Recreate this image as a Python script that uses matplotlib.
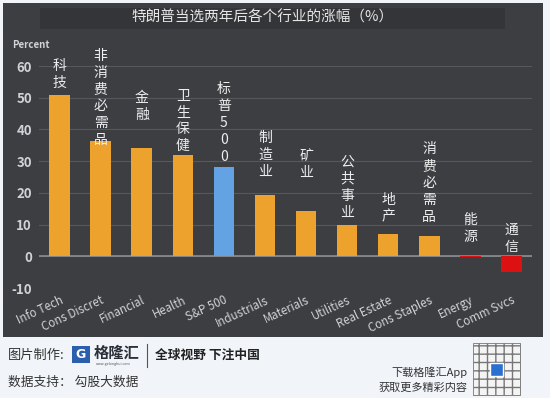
"""Sector gains two years after the Trump election, dark panel bar chart."""

import matplotlib

matplotlib.use("Agg")

import matplotlib.pyplot as plt
from matplotlib.patches import Rectangle

plt.rcParams["font.family"] = ["Noto Sans CJK SC", "DejaVu Sans"]

W, H = 550, 398

sectors_en = ["Info Tech", "Cons Discret", "Financial", "Health", "S&P 500", "Industrials",
              "Materials", "Utilities", "Real Estate", "Cons Staples", "Energy", "Comm Svcs"]
sectors_cn = ["科技", "非消费必需品", "金融", "卫生保健", "标普500", "制造业",
              "矿业", "公共事业", "地产", "消费必需品", "能源", "通信"]
gains = [50.8, 36.3, 34.0, 31.9, 28.0, 19.2, 14.3, 9.8, 6.9, 6.4, -0.3, -4.8]
y_ticks = [-10, 0, 10, 20, 30, 40, 50, 60]

# gap (points) between the bar top and its vertical chinese label
label_gap = [3.5, -4.5, 19, 1.2, 2.7, 12, 22, 4, 7.7, 8.4, 9, 2]

ORANGE = "#eda22e"
BLUE = "#63a3e3"
RED = "#dd1111"
PANEL = "#3c3e42"
TICK = "#cfd2d6"


def fx(px):
    return px / W


def fy(py):
    return 1 - py / H


def bar_colour(name, value):
    if name == "S&P 500":
        return BLUE
    return RED if value < 0 else ORANGE


fig = plt.figure(figsize=(W / 100, H / 100), dpi=100, facecolor="#f1f5f9")

# dark panel and title band
fig.patches.append(Rectangle((fx(3), fy(337)), fx(540), 334 / H, transform=fig.transFigure,
                             facecolor=PANEL, edgecolor="none", zorder=-5))
fig.patches.append(Rectangle((fx(40), fy(29)), fx(465), 21 / H, transform=fig.transFigure,
                             facecolor="#333539", edgecolor="none", zorder=-4))
fig.text(fx(263), fy(17), "特朗普当选两年后各个行业的涨幅（%）", color="#e6e6e6",
         fontsize=10.5, ha="center", va="center")

ax = fig.add_axes([fx(39), fy(288), fx(493), (288 - 66) / H])
ax.set_zorder(3)
ax.set_facecolor("none")
x = range(len(gains))
colours = [bar_colour(n, v) for n, v in zip(sectors_en, gains)]
ax.bar(x, gains, width=0.5, color=colours, edgecolor="none", zorder=3)

ax.set_xlim(-0.5, len(gains) - 0.5)
ax.set_ylim(-10, 60)
ax.set_yticks(y_ticks)
ax.set_yticklabels([str(t) for t in y_ticks], color=TICK, fontsize=9.5, fontweight="bold")
ax.set_xticks(list(x))
ax.set_xticklabels(sectors_en, rotation=25, ha="right", rotation_mode="anchor",
                   color=TICK, fontsize=8.3)
ax.tick_params(length=0, axis="y", pad=5)
ax.tick_params(length=0, axis="x", pad=4)
for s in ax.spines.values():
    s.set_visible(False)
ax.grid(axis="y", color="#55585d", lw=0.8, zorder=1)
ax.axhline(0, color="#8a8d92", lw=1.2, zorder=2)

for i, (cn, v) in enumerate(zip(sectors_cn, gains)):
    ax.annotate("\n".join(cn), (i, max(v, 0)), xytext=(0, label_gap[i]),
                textcoords="offset points", ha="center", va="bottom",
                color="#eeeeee", fontsize=10, linespacing=1.27,
                annotation_clip=False, zorder=4)

fig.text(fx(12), fy(45), "Percent", color=TICK, fontsize=7, fontweight="bold",
         ha="left", va="center")

# footer
fig.text(fx(8), fy(355), "图片制作:", color="#333333", fontsize=9.5, va="center")
fig.patches.append(Rectangle((fx(72), fy(363)), fx(18), 17 / H, transform=fig.transFigure,
                             facecolor="#2b5fae", edgecolor="none"))
fig.text(fx(81), fy(354.5), "G", color="white", fontsize=9, fontweight="bold",
         ha="center", va="center", family="DejaVu Sans")
fig.text(fx(94), fy(353), "格隆汇", color="#2a2f3a", fontsize=11, fontweight="bold", va="center")
fig.text(fx(96), fy(364), "www.gelonghui.com", color="#555555", fontsize=2.6, va="center")
fig.add_artist(plt.Line2D([fx(147), fx(147)], [fy(344), fy(367)], color="#555555", lw=0.8))
fig.text(fx(155), fy(355), "全球视野 下注中国", color="#222222", fontsize=9.2,
         fontweight="bold", va="center")
fig.text(fx(8), fy(382), "数据支持： 勾股大数据", color="#333333", fontsize=9.2, va="center")
fig.text(fx(468), fy(372), "下载格隆汇App", color="#333333", fontsize=8, ha="right", va="center")
fig.text(fx(468), fy(388), "获取更多精彩内容", color="#333333", fontsize=8, ha="right", va="center")
fig.patches.append(Rectangle((fx(473), fy(395)), fx(47), 52 / H, transform=fig.transFigure,
                             facecolor="#f4f4f4", edgecolor="#777777", hatch="++", lw=0.6))
fig.patches.append(Rectangle((fx(490), fy(376)), fx(13), 13 / H, transform=fig.transFigure,
                             facecolor="#2b6fd0", edgecolor="white", lw=1))

fig.savefig("out.png", dpi=100, facecolor=fig.get_facecolor())
